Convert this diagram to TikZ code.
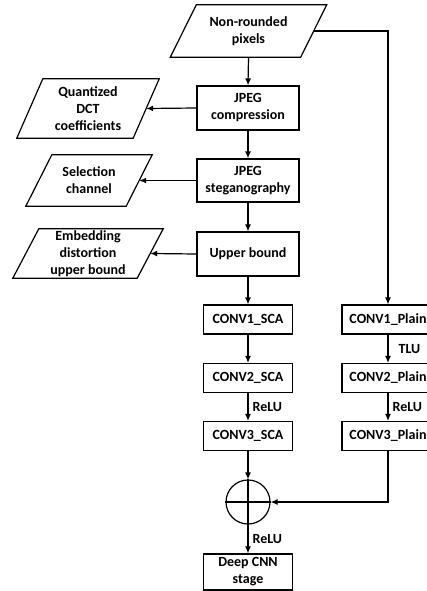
\documentclass[tikz,border=0pt]{standalone}
\usepackage{fontspec}
\setmainfont{Carlito}
\usetikzlibrary{arrows.meta}
\begin{document}
\begin{tikzpicture}[x=1pt,y=-1pt,
  every node/.style={font=\fontsize{14}{17}\selectfont\bfseries},
  box/.style={draw, line width=1.2pt, align=center, inner sep=0pt},
  bigbox/.style={box, minimum width=102pt},
  smallbox/.style={box, minimum width=89pt, minimum height=29pt},
  plainbox/.style={box, minimum width=92pt, minimum height=29pt},
  paratext/.style={align=center, inner sep=0pt},
  conn/.style={line width=1.2pt},
  arr/.style={conn, -{Latex[length=7pt,width=6pt]}},
  lab/.style={right=4pt, inner sep=0pt}]
\useasboundingbox (0,0) rectangle (426,591);

% parallelogram text holders
\node[paratext, minimum width=130pt, minimum height=52pt] (nr) at (248.5,31) {Non-rounded\\pixels};
\node[paratext, minimum width=116pt, minimum height=59pt] (qd) at (88,108.5) {Quantized\\DCT\\coefficients};
\node[paratext, minimum width=100pt, minimum height=51pt] (sc) at (89,180.5) {Selection\\channel};
\node[paratext, minimum width=124pt, minimum height=49pt] (ed) at (88,253.5) {Embedding\\distortion\\upper bound};
\foreach \n in {nr,qd,sc,ed}{
  \draw[conn, line join=miter] ([xshift=-13pt]\n.south west) -- ([xshift=-13pt]\n.south east)
     -- ([xshift=13pt]\n.north east) -- ([xshift=13pt]\n.north west) -- cycle;
}

% main column
\node[bigbox, minimum height=44pt] (jc) at (248,108) {JPEG\\compression};
\node[bigbox, minimum height=43pt] (js) at (248,180.5) {JPEG\\steganography};
\node[bigbox, minimum height=44pt] (ub) at (248,254) {Upper bound};
\node[smallbox] (c1s) at (248,319.5) {CONV1\_SCA};
\node[smallbox] (c2s) at (248,378) {CONV2\_SCA};
\node[smallbox] (c3s) at (248,436) {CONV3\_SCA};
\node[draw, circle, line width=1.2pt, minimum size=44pt, inner sep=0pt] (sum) at (248,502) {};
\node[smallbox, minimum height=36pt] (deep) at (248,572) {Deep CNN\\stage};

% right column
\node[plainbox] (c1p) at (388,319.5) {CONV1\_Plain};
\node[plainbox] (c2p) at (388,378) {CONV2\_Plain};
\node[plainbox] (c3p) at (388,436) {CONV3\_Plain};

% connectors
\draw[arr] (nr.south) -- (jc.north);
\draw[arr] (jc) -- (js);
\draw[arr] (js) -- (ub);
\draw[arr] (ub) -- (c1s);
\draw[arr] (c1s) -- (c2s);
\draw[arr] (c2s) -- node[lab]{ReLU} (c3s);
\draw[arr] (c3s) -- (sum.north);
\draw[arr] (sum.south) -- node[lab]{ReLU} (deep);
\draw[conn] (sum.north) -- (sum.south);
\draw[conn] (sum.west) -- (sum.east);

\draw[arr] (jc.west) -- (qd.east);
\draw[arr] (js.west) -- (sc.east);
\draw[arr] (ub.west) -- (ed.east);

\draw[arr] (nr.east) -| (c1p.north);
\draw[arr] (c1p) -- node[lab, right=6pt]{TLU} (c2p);
\draw[arr] (c2p) -- node[lab]{ReLU} (c3p);
\draw[arr] (c3p.south) |- (sum.east);
\end{tikzpicture}
\end{document}
